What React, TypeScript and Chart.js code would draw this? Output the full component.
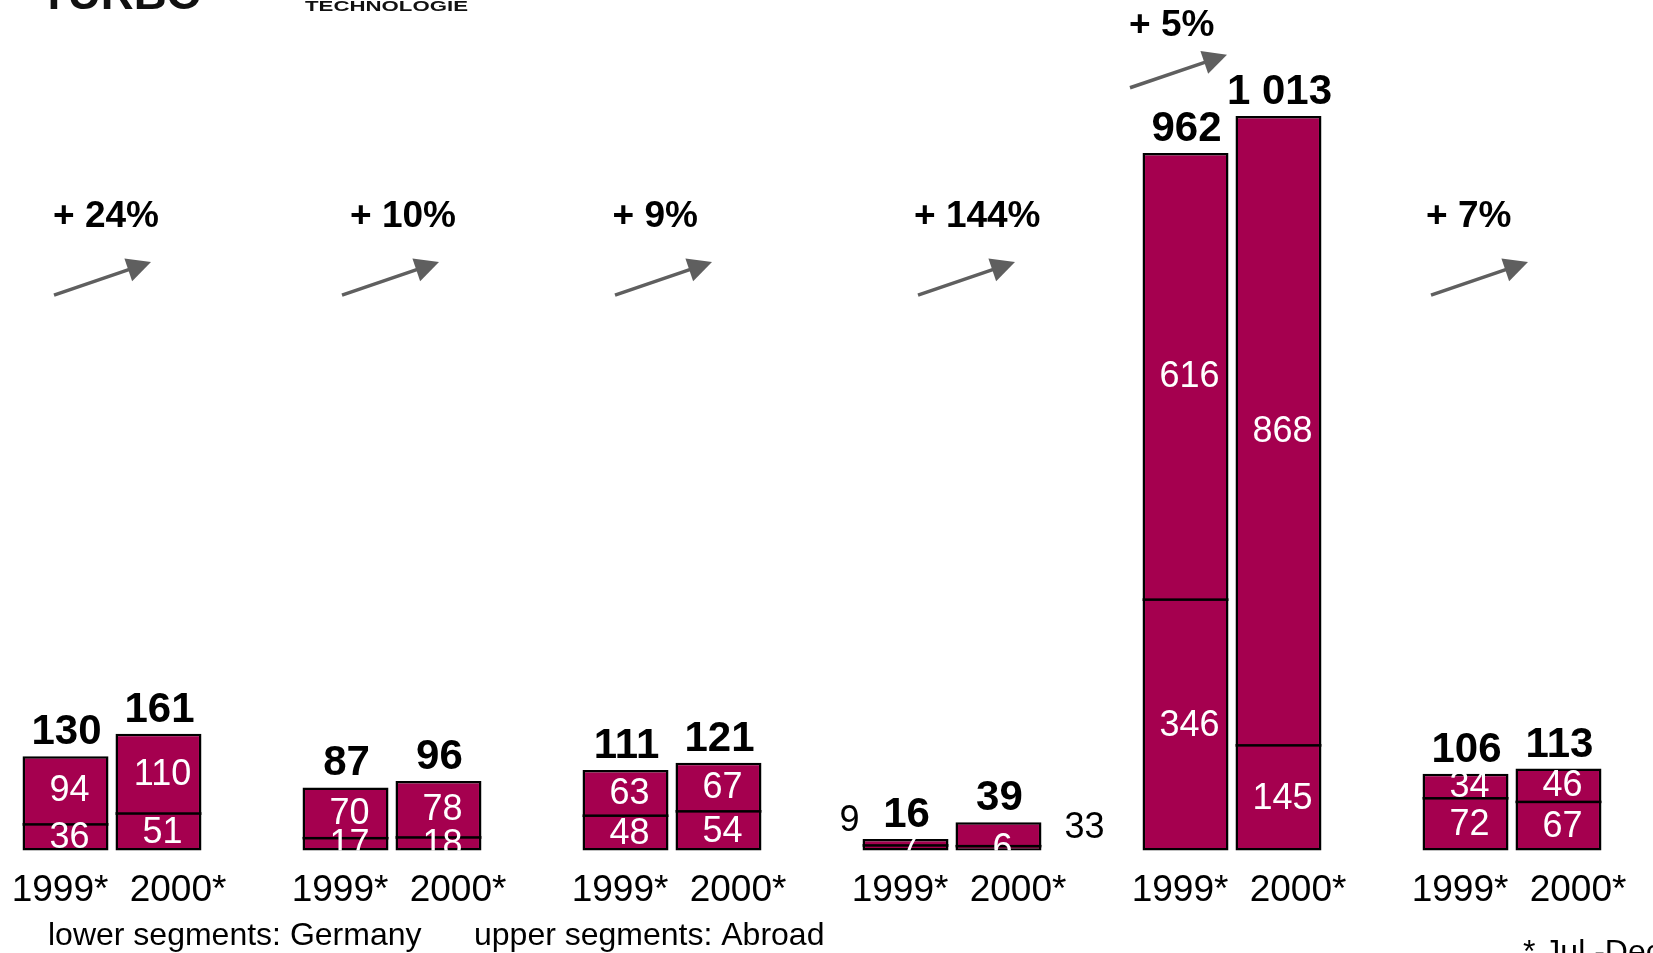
import React, { useEffect, useRef } from 'react';
import { Chart, registerables } from 'chart.js';

Chart.register(...registerables);

// ---- data ----
const GROUPS = ['Group 1', 'Group 2', 'Group 3', 'Group 4', 'Group 5', 'Group 6'];
const YEARS = ['1999*', '2000*'];
const GERMANY_1999 = [36, 17, 48, 7, 346, 72];
const ABROAD_1999 = [94, 70, 63, 9, 616, 34];
const GERMANY_2000 = [51, 18, 54, 6, 145, 67];
const ABROAD_2000 = [110, 78, 67, 33, 868, 46];
const GROWTH_LABELS = ['+ 24%', '+ 10%', '+ 9%', '+ 144%', '+ 5%', '+ 7%'];
const LEGEND_LOWER = 'lower segments: Germany';
const LEGEND_UPPER = 'upper segments: Abroad';
const FOOTNOTE = '* Jul.-Dec.';
const LOGO_LEFT = 'TURBO';
const LOGO_RIGHT = 'TECHNOLOGIE';

// ---- layout / styling ----
const W = 1653;
const H = 953;
const BAR_COLOR = '#A5004F';
const ARROW_COLOR = '#5f5f5f';
const FONT = '"Liberation Sans", Arial, Helvetica, sans-serif';
const Y_MAX = 1173;
const OUTSIDE_ABROAD_GROUP = 3;
const ARROW_VEC = { dx: 97, dy: -33 };
const ARROW_LAYOUT = [
  { dx: -58, level: 766, labelDx: -59, labelLevel: 874 },
  { dx: -50, level: 766, labelDx: -42, labelLevel: 874 },
  { dx: -57, level: 766, labelDx: -59.5, labelLevel: 874 },
  { dx: -34, level: 766, labelDx: -38, labelLevel: 874 },
  { dx: -102, level: 1052, labelDx: -103, labelLevel: 1138 },
  { dx: -81, level: 766, labelDx: -86, labelLevel: 874 },
];
const YEAR_OFFSETS = [-52, 66];
const DIVIDER_WIDTH = 2.5;

function fmtTotal(v: number): string {
  const s = String(v);
  return s.replace(/\B(?=(\d{3})+(?!\d))/g, ' ');
}

function drawArrow(ctx: CanvasRenderingContext2D, x0: number, y0: number, x1: number, y1: number) {
  const ang = Math.atan2(y1 - y0, x1 - x0);
  const headLen = 24;
  const headHalf = 12;
  const c = Math.cos(ang);
  const s = Math.sin(ang);
  const bx = x1 - headLen * c;
  const by = y1 - headLen * s;
  ctx.strokeStyle = ARROW_COLOR;
  ctx.fillStyle = ARROW_COLOR;
  ctx.lineWidth = 3.5;
  ctx.lineCap = 'butt';
  ctx.beginPath();
  ctx.moveTo(x0, y0);
  ctx.lineTo(bx + 2 * c, by + 2 * s);
  ctx.stroke();
  ctx.beginPath();
  ctx.moveTo(x1, y1);
  ctx.lineTo(bx + headHalf * s, by - headHalf * c);
  ctx.lineTo(bx - headHalf * s, by + headHalf * c);
  ctx.closePath();
  ctx.fill();
}

const annotatePlugin = {
  id: 'annotate',
  afterDatasetsDraw(chart: any) {
    const ctx: CanvasRenderingContext2D = chart.ctx;
    const area = chart.chartArea;
    const xs = chart.scales.x;
    const ys = chart.scales.y;

    // dividers between the stacked segments (at the base of each upper segment)
    ctx.save();
    ctx.fillStyle = '#000000';
    [1, 3].forEach((di) => {
      chart.getDatasetMeta(di).data.forEach((el: any) => {
        ctx.fillRect(el.x - el.width / 2, el.base - DIVIDER_WIDTH / 2, el.width, DIVIDER_WIDTH);
      });
    });
    ctx.restore();

    // segment values (white, clipped to the plot bottom)
    ctx.save();
    ctx.beginPath();
    ctx.rect(0, 0, chart.width, area.bottom);
    ctx.clip();
    ctx.font = `36px ${FONT}`;
    ctx.textAlign = 'center';
    ctx.textBaseline = 'middle';
    chart.data.datasets.forEach((ds: any, di: number) => {
      const meta = chart.getDatasetMeta(di);
      const isAbroad = di % 2 === 1;
      meta.data.forEach((el: any, i: number) => {
        if (isAbroad && i === OUTSIDE_ABROAD_GROUP) return;
        const v = ds.data[i];
        ctx.fillStyle = '#ffffff';
        ctx.fillText(String(v), el.x + 4, (el.y + el.base) / 2 + 1);
      });
    });
    ctx.restore();

    // outside abroad labels for the small group
    ctx.save();
    ctx.font = `36px ${FONT}`;
    ctx.fillStyle = '#000000';
    ctx.textBaseline = 'middle';
    [1, 3].forEach((di, k) => {
      const el: any = chart.getDatasetMeta(di).data[OUTSIDE_ABROAD_GROUP];
      const v = chart.data.datasets[di].data[OUTSIDE_ABROAD_GROUP];
      if (k === 0) {
        ctx.textAlign = 'right';
        ctx.fillText(String(v), el.x - el.width / 2 - 3, el.y - 18);
      } else {
        ctx.textAlign = 'left';
        ctx.fillText(String(v), el.x + el.width / 2 + 23, el.y + 6);
      }
    });
    ctx.restore();

    // totals
    ctx.save();
    ctx.font = `bold 42px ${FONT}`;
    ctx.fillStyle = '#000000';
    ctx.textAlign = 'center';
    ctx.textBaseline = 'alphabetic';
    [[0, 1], [2, 3]].forEach(([lo, up]) => {
      const topMeta = chart.getDatasetMeta(up);
      topMeta.data.forEach((el: any, i: number) => {
        const total = chart.data.datasets[lo].data[i] + chart.data.datasets[up].data[i];
        ctx.fillText(fmtTotal(total), el.x + 1, el.y - 12);
      });
    });
    ctx.restore();

    // year labels
    ctx.save();
    ctx.font = `37px ${FONT}`;
    ctx.fillStyle = '#000000';
    ctx.textAlign = 'center';
    ctx.textBaseline = 'alphabetic';
    GROUPS.forEach((_, i) => {
      const gx = xs.getPixelForValue(i);
      YEARS.forEach((yr, k) => {
        ctx.fillText(yr, gx + YEAR_OFFSETS[k], 901);
      });
    });
    ctx.restore();

    // growth arrows and labels
    ctx.save();
    GROWTH_LABELS.forEach((lab, i) => {
      const gx = xs.getPixelForValue(i);
      const L = ARROW_LAYOUT[i];
      const x0 = gx + L.dx;
      const y0 = ys.getPixelForValue(L.level);
      drawArrow(ctx, x0, y0, x0 + ARROW_VEC.dx, y0 + ARROW_VEC.dy);
      ctx.font = `bold 37px ${FONT}`;
      ctx.fillStyle = '#000000';
      ctx.textAlign = 'left';
      ctx.textBaseline = 'middle';
      ctx.fillText(lab, gx + L.labelDx, ys.getPixelForValue(L.labelLevel));
    });
    ctx.restore();

    // legend text and footnote
    ctx.save();
    ctx.font = `32px ${FONT}`;
    ctx.fillStyle = '#000000';
    ctx.textAlign = 'left';
    ctx.textBaseline = 'alphabetic';
    ctx.fillText(LEGEND_LOWER, 48, 945);
    ctx.fillText(LEGEND_UPPER, 474, 945);
    ctx.fillText(FOOTNOTE, 1523, 962);
    ctx.restore();

    // partial logos at the top
    ctx.save();
    ctx.fillStyle = '#111111';
    ctx.textAlign = 'left';
    ctx.textBaseline = 'alphabetic';
    ctx.font = `900 44px ${FONT}`;
    let w = ctx.measureText(LOGO_LEFT).width;
    ctx.save();
    ctx.translate(40, 9);
    ctx.scale(162 / w, 1);
    ctx.fillText(LOGO_LEFT, 0, 0);
    ctx.restore();
    ctx.font = `bold 15px ${FONT}`;
    w = ctx.measureText(LOGO_RIGHT).width;
    ctx.save();
    ctx.translate(305, 11);
    ctx.scale(163 / w, 1);
    ctx.fillText(LOGO_RIGHT, 0, 0);
    ctx.restore();
    ctx.restore();
  },
};

export default function App() {
  const ref = useRef<HTMLCanvasElement | null>(null);

  useEffect(() => {
    if (!ref.current) return;
    const common = {
      backgroundColor: BAR_COLOR,
      borderColor: '#000000',
      categoryPercentage: 0.664,
      barPercentage: 0.925,
      borderSkipped: false as any,
      clip: false as any,
    };
    const lowerBorder = { top: 0, right: 2.5, bottom: 2.5, left: 2.5 };
    const upperBorder = { top: 2.5, right: 2.5, bottom: 0, left: 2.5 };
    const chart = new Chart(ref.current, {
      type: 'bar',
      data: {
        labels: GROUPS,
        datasets: [
          { ...common, label: 'Germany 1999*', data: GERMANY_1999, stack: '1999', borderWidth: lowerBorder as any },
          { ...common, label: 'Abroad 1999*', data: ABROAD_1999, stack: '1999', borderWidth: upperBorder as any },
          { ...common, label: 'Germany 2000*', data: GERMANY_2000, stack: '2000', borderWidth: lowerBorder as any },
          { ...common, label: 'Abroad 2000*', data: ABROAD_2000, stack: '2000', borderWidth: upperBorder as any },
        ],
      },
      options: {
        responsive: false,
        animation: false,
        devicePixelRatio: 1,
        layout: { padding: { left: 112, right: 141, top: 0, bottom: 102.5 } },
        plugins: {
          legend: { display: false },
          tooltip: { enabled: false },
        },
        scales: {
          x: { type: 'category', stacked: true, offset: false, display: false },
          y: { stacked: true, min: 0, max: Y_MAX, display: false },
        },
      },
      plugins: [annotatePlugin],
    });
    return () => chart.destroy();
  }, []);

  return (
    <div style={{ position: 'fixed', left: 0, top: 0, width: W, height: H, background: '#ffffff' }}>
      <canvas ref={ref} width={W} height={H} style={{ display: 'block' }} />
    </div>
  );
}
